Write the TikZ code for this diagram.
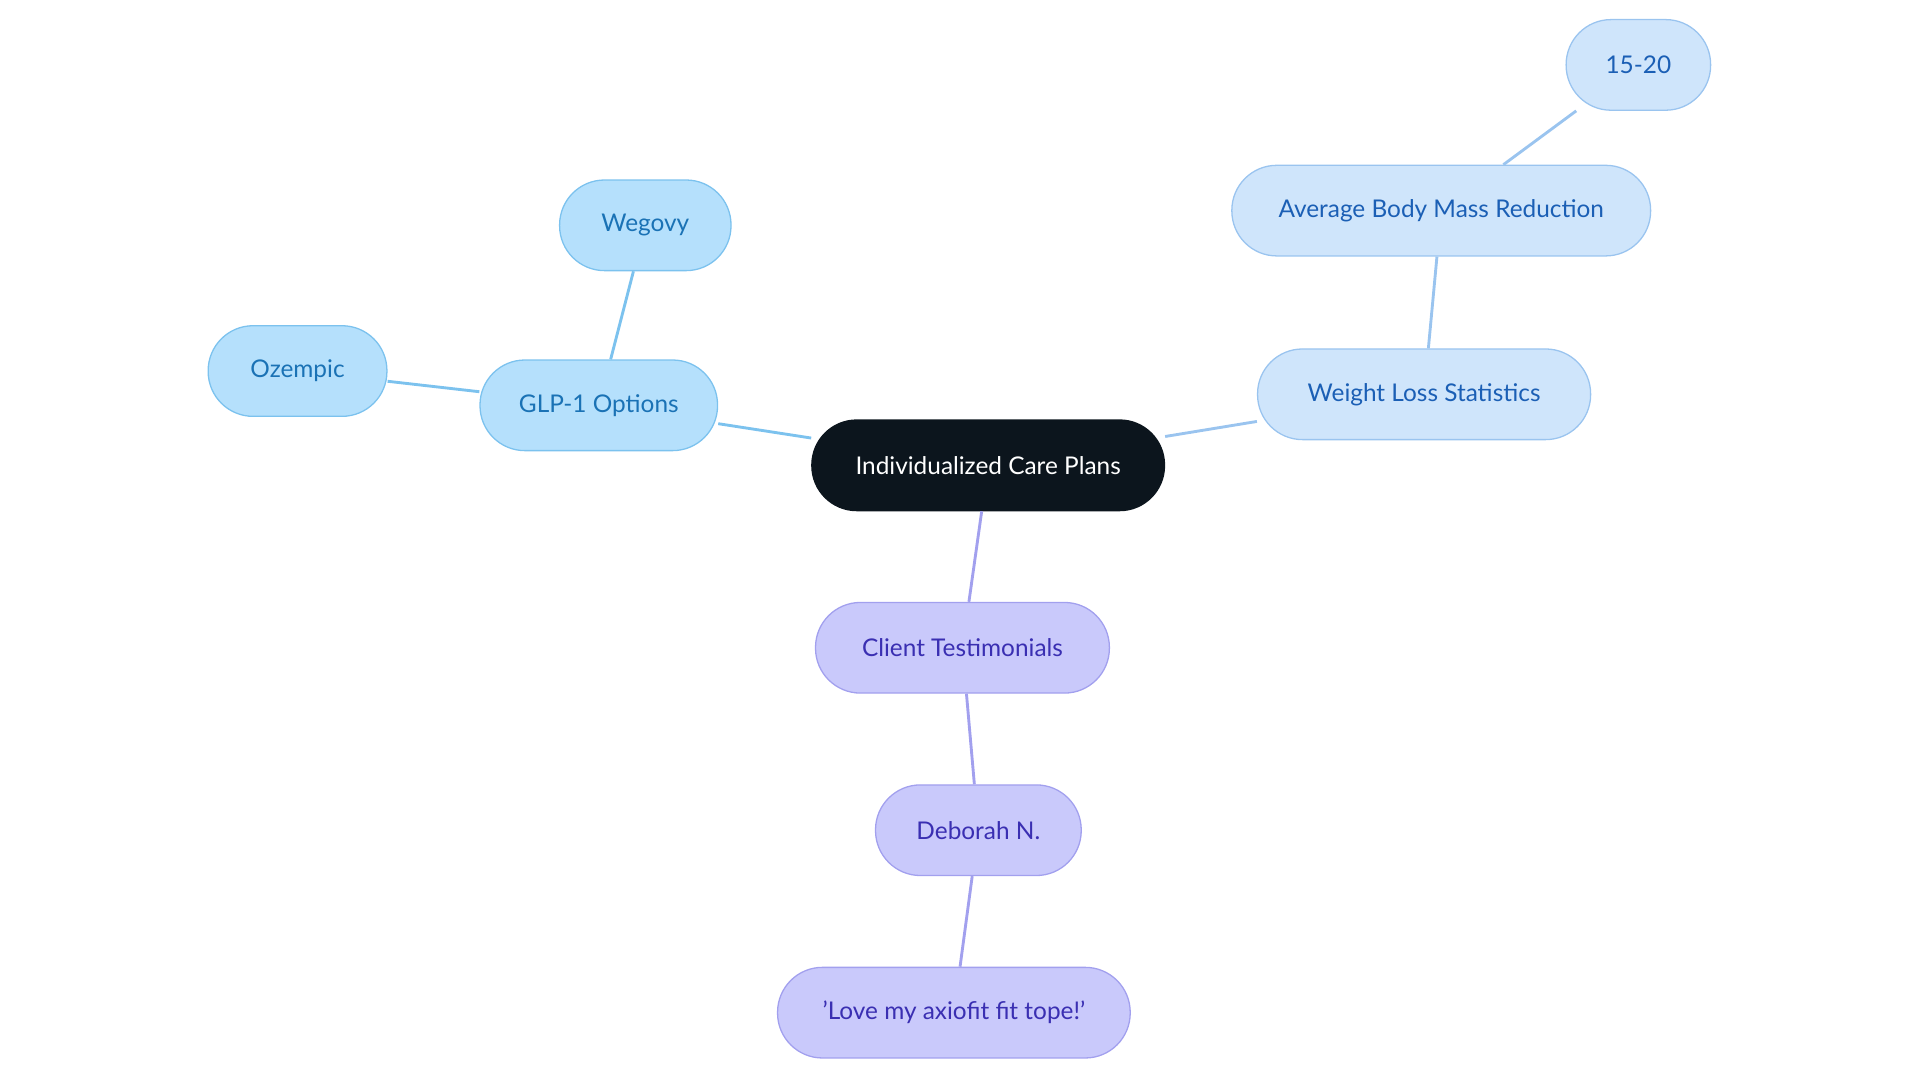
\documentclass[tikz,border=0pt]{standalone}
\usepackage{fontspec}
\setmainfont{Lato}
\usepackage{tikz}
\definecolor{rootfill}{HTML}{0C151D}
\definecolor{gfill}{HTML}{B5E0FC}
\definecolor{gdraw}{HTML}{7CC2EE}
\definecolor{gtext}{HTML}{1A72B5}
\definecolor{wfill}{HTML}{CFE5FB}
\definecolor{wdraw}{HTML}{9AC4EF}
\definecolor{wtext}{HTML}{1B5FB5}
\definecolor{cfill}{HTML}{C9C9FB}
\definecolor{cdraw}{HTML}{A2A0EE}
\definecolor{ctext}{HTML}{3A2FB2}
\begin{document}
\begin{tikzpicture}[
  x=0.03cm,y=-0.03cm,
  box/.style={rounded corners=1.1cm,minimum height=2.22cm,minimum width=#1*0.03cm,
    font=\fontsize{17}{20}\selectfont,line width=0.9pt},
  glp/.style={box=#1,fill=gfill,draw=gdraw,text=gtext},
  wls/.style={box=#1,fill=wfill,draw=wdraw,text=wtext},
  cli/.style={box=#1,fill=cfill,draw=cdraw,text=ctext},
  link/.style={line width=2pt}
  ]
\useasboundingbox (0,0) rectangle (1568,884);
\node[box=288,fill=rootfill,draw=rootfill,text=white] (root) at (807,380) {Individualized Care Plans};
% GLP-1 branch
\node[glp=194] (glp) at (489,331) {GLP-1 Options};
\node[glp=140] (wegovy) at (527,184) {Wegovy};
\node[glp=146] (ozempic) at (243,303) {Ozempic};
% statistics branch
\node[wls=272] (stats) at (1163,322) {Weight Loss Statistics};
\node[wls=342] (bmr) at (1177,172) {Average Body Mass Reduction};
\node[wls=118] (pct) at (1338,53) {15-20};
% testimonial branch
\node[cli=240] (client) at (786,529) {Client Testimonials};
\node[cli=168] (deborah) at (799,678) {Deborah N.};
\node[cli=288] (quote) at (779,827) {'Love my axiofit fit tope!'};
\draw[link,gdraw] (root) -- (glp);
\draw[link,gdraw] (glp) -- (wegovy);
\draw[link,gdraw] (glp) -- (ozempic);
\draw[link,wdraw] (root) -- (stats);
\draw[link,wdraw] (stats) -- (bmr);
\draw[link,wdraw] (bmr) -- (pct);
\draw[link,cdraw] (root) -- (client);
\draw[link,cdraw] (client) -- (deborah);
\draw[link,cdraw] (deborah) -- (quote);
\end{tikzpicture}
\end{document}
